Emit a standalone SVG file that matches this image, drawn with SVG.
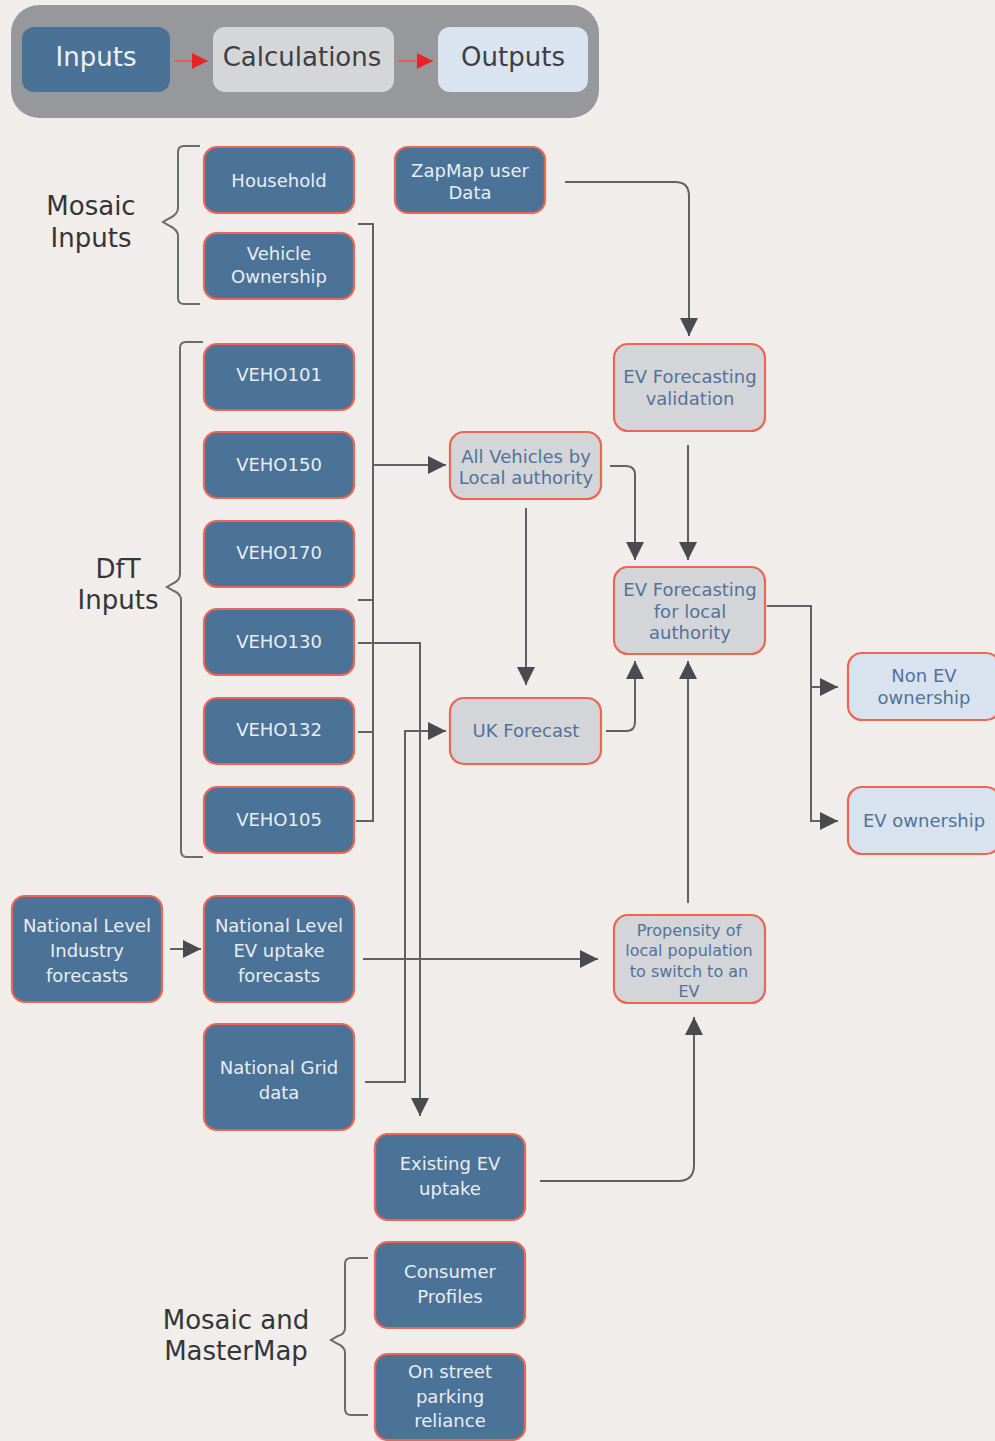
<svg xmlns="http://www.w3.org/2000/svg" width="995" height="1441" viewBox="0 0 995 1441">
  <defs>
    <style>
      .bg { fill: #f0edea; }
      .inp rect { fill: #4b7297; stroke: #ec6653; stroke-width: 2.2; }
      .calc rect { fill: #d4d5d8; stroke: #ec6653; stroke-width: 2.2; }
      .out rect { fill: #d8e3ef; stroke: #ec6653; stroke-width: 2.2; }
      text { font-family: "DejaVu Sans", "Liberation Sans", sans-serif; text-anchor: middle; }
      .inp text { fill: #e9eef4; font-size: 18px; }
      .calc text, .out text { fill: #52729a; font-size: 18px; }
      .small text { font-size: 16px; }
      .label { fill: #343538; font-size: 26px; }
      .conn path { fill: none; stroke: #5f6166; stroke-width: 2; }
      .brace { fill: none; stroke: #6a6b6f; stroke-width: 2; }
      .leg-arrow { stroke: #ee5a50; stroke-width: 2; fill: none; }
    </style>
    <marker id="arr" viewBox="0 0 10 10" markerUnits="userSpaceOnUse" markerWidth="18" markerHeight="20" refX="10" refY="5" orient="auto">
      <path d="M0,0 L10,5 L0,10 z" fill="#4a4b4f"/>
    </marker>
    <marker id="arrRed" viewBox="0 0 10 10" markerUnits="userSpaceOnUse" markerWidth="16" markerHeight="20" refX="10" refY="5" orient="auto">
      <path d="M0,0 L10,5 L0,10 z" fill="#e8242a"/>
    </marker>
  </defs>

  <rect class="bg" x="0" y="0" width="995" height="1441"/>

  <!-- legend strip -->
  <g id="legend">
    <rect x="11" y="5" width="588" height="113" rx="28" fill="#97989c"/>
    <rect x="22" y="27" width="148" height="65" rx="12" fill="#4a7196"/>
    <text x="96" y="66" fill="#eef2f6" font-size="26">Inputs</text>
    <rect x="213" y="27" width="181" height="65" rx="12" fill="#d5d6d8"/>
    <text x="302" y="66" fill="#3d3f44" font-size="26">Calculations</text>
    <rect x="438" y="27" width="150" height="65" rx="12" fill="#d9e4f0"/>
    <text x="513" y="66" fill="#3d3f44" font-size="26">Outputs</text>
    <path class="leg-arrow" d="M174,61 H208" marker-end="url(#arrRed)"/>
    <path class="leg-arrow" d="M398,61 H433" marker-end="url(#arrRed)"/>
  </g>

  <!-- group labels and braces -->
  <g id="group-labels">
    <text class="label" x="91" y="215">Mosaic</text>
    <text class="label" x="91" y="247">Inputs</text>
    <path class="brace" d="M200,146 H184 Q178,146 178,152 V208 Q178,214 170,218 L163,222 L170,226 Q178,230 178,236 V298 Q178,304 184,304 H200"/>

    <text class="label" x="118" y="578">DfT</text>
    <text class="label" x="118" y="609">Inputs</text>
    <path class="brace" d="M203,342 H186 Q180,342 180,348 V574 Q180,580 174,583 L167,587 L174,591 Q181,594 181,600 V851 Q181,857 187,857 H203"/>

    <text class="label" x="236" y="1329">Mosaic and</text>
    <text class="label" x="236" y="1360">MasterMap</text>
    <path class="brace" d="M368,1258 H351 Q345,1258 345,1264 V1328 Q345,1334 338,1336 L331,1340 L338,1344 Q345,1347 345,1353 V1409 Q345,1415 351,1415 H368"/>
  </g>

  <!-- connectors -->
  <g id="connectors" class="conn">
    <!-- DfT bracket line feeding All Vehicles by Local authority -->
    <path d="M358,224 H373 V821 H356"/>
    <path d="M358,600 H373"/>
    <path d="M358,732 H373"/>
    <path d="M373,465 H446" marker-end="url(#arr)"/>
    <!-- VEHO130 to Existing EV uptake -->
    <path d="M358,643 H420 V1116" marker-end="url(#arr)"/>
    <!-- National Grid data to UK Forecast -->
    <path d="M365,1082 H405 V731 H446" marker-end="url(#arr)"/>
    <!-- National Level EV uptake forecasts to Propensity -->
    <path d="M363,959 H598" marker-end="url(#arr)"/>
    <!-- Industry forecasts to EV uptake forecasts -->
    <path d="M170,949 H201" marker-end="url(#arr)"/>
    <!-- ZapMap to EV Forecasting validation -->
    <path d="M565,182 H675 Q689,182 689,196 V336" marker-end="url(#arr)"/>
    <!-- validation to local authority forecast -->
    <path d="M688,445 V560" marker-end="url(#arr)"/>
    <!-- All Vehicles to local authority forecast -->
    <path d="M610,466 H626 Q635,466 635,475 V560" marker-end="url(#arr)"/>
    <!-- All Vehicles to UK Forecast -->
    <path d="M526,508 V685" marker-end="url(#arr)"/>
    <!-- UK Forecast to local authority forecast -->
    <path d="M606,731 H626 Q635,731 635,722 V661" marker-end="url(#arr)"/>
    <!-- Propensity to local authority forecast -->
    <path d="M688,903 V661" marker-end="url(#arr)"/>
    <!-- Existing EV uptake to Propensity -->
    <path d="M540,1181 H678 Q694,1181 694,1165 V1017" marker-end="url(#arr)"/>
    <!-- local authority forecast to outputs -->
    <path d="M767,606 H811 V821 H838" marker-end="url(#arr)"/>
    <path d="M811,687 H838" marker-end="url(#arr)"/>
  </g>

  <!-- input nodes -->
  <g id="household" class="inp"><rect x="204" y="147" width="150" height="66" rx="13"/><text x="279" y="187">Household</text></g>
  <g id="zapmap" class="inp"><rect x="395" y="147" width="150" height="66" rx="13"/><text x="470" y="177">ZapMap user</text><text x="470" y="199">Data</text></g>
  <g id="vehicle-ownership" class="inp"><rect x="204" y="233" width="150" height="66" rx="13"/><text x="279" y="260">Vehicle</text><text x="279" y="283">Ownership</text></g>
  <g id="veho101" class="inp"><rect x="204" y="344" width="150" height="66" rx="13"/><text x="279" y="381">VEHO101</text></g>
  <g id="veho150" class="inp"><rect x="204" y="432" width="150" height="66" rx="13"/><text x="279" y="471">VEHO150</text></g>
  <g id="veho170" class="inp"><rect x="204" y="521" width="150" height="66" rx="13"/><text x="279" y="559">VEHO170</text></g>
  <g id="veho130" class="inp"><rect x="204" y="609" width="150" height="66" rx="13"/><text x="279" y="648">VEHO130</text></g>
  <g id="veho132" class="inp"><rect x="204" y="698" width="150" height="66" rx="13"/><text x="279" y="736">VEHO132</text></g>
  <g id="veho105" class="inp"><rect x="204" y="787" width="150" height="66" rx="13"/><text x="279" y="826">VEHO105</text></g>
  <g id="industry-forecasts" class="inp"><rect x="12" y="896" width="150" height="106" rx="13"/><text x="87" y="932">National Level</text><text x="87" y="957">Industry</text><text x="87" y="982">forecasts</text></g>
  <g id="ev-uptake-forecasts" class="inp"><rect x="204" y="896" width="150" height="106" rx="13"/><text x="279" y="932">National Level</text><text x="279" y="957">EV uptake</text><text x="279" y="982">forecasts</text></g>
  <g id="national-grid" class="inp"><rect x="204" y="1024" width="150" height="106" rx="13"/><text x="279" y="1074">National Grid</text><text x="279" y="1099">data</text></g>
  <g id="existing-ev-uptake" class="inp"><rect x="375" y="1134" width="150" height="86" rx="13"/><text x="450" y="1170">Existing EV</text><text x="450" y="1195">uptake</text></g>
  <g id="consumer-profiles" class="inp"><rect x="375" y="1242" width="150" height="86" rx="13"/><text x="450" y="1278">Consumer</text><text x="450" y="1303">Profiles</text></g>
  <g id="on-street-parking" class="inp"><rect x="375" y="1354" width="150" height="86" rx="13"/><text x="450" y="1378">On street</text><text x="450" y="1403">parking</text><text x="450" y="1427">reliance</text></g>

  <!-- calculation nodes -->
  <g id="ev-validation" class="calc"><rect x="614" y="344" width="151" height="87" rx="14"/><text x="690" y="383">EV Forecasting</text><text x="690" y="405">validation</text></g>
  <g id="all-vehicles-la" class="calc"><rect x="450" y="432" width="151" height="67" rx="14"/><text x="526" y="463">All Vehicles by</text><text x="526" y="484">Local authority</text></g>
  <g id="ev-forecast-la" class="calc"><rect x="614" y="567" width="151" height="87" rx="14"/><text x="690" y="596">EV Forecasting</text><text x="690" y="618">for local</text><text x="690" y="639">authority</text></g>
  <g id="uk-forecast" class="calc"><rect x="450" y="698" width="151" height="66" rx="14"/><text x="526" y="737">UK Forecast</text></g>
  <g id="propensity" class="calc small"><rect x="614" y="915" width="151" height="88" rx="14"/><text x="689" y="936">Propensity of</text><text x="689" y="956">local population</text><text x="689" y="977">to switch to an</text><text x="689" y="997">EV</text></g>

  <!-- output nodes -->
  <g id="non-ev-ownership" class="out"><rect x="848" y="653" width="152" height="67" rx="14"/><text x="924" y="682">Non EV</text><text x="924" y="704">ownership</text></g>
  <g id="ev-ownership" class="out"><rect x="848" y="787" width="152" height="67" rx="14"/><text x="924" y="827">EV ownership</text></g>
</svg>
